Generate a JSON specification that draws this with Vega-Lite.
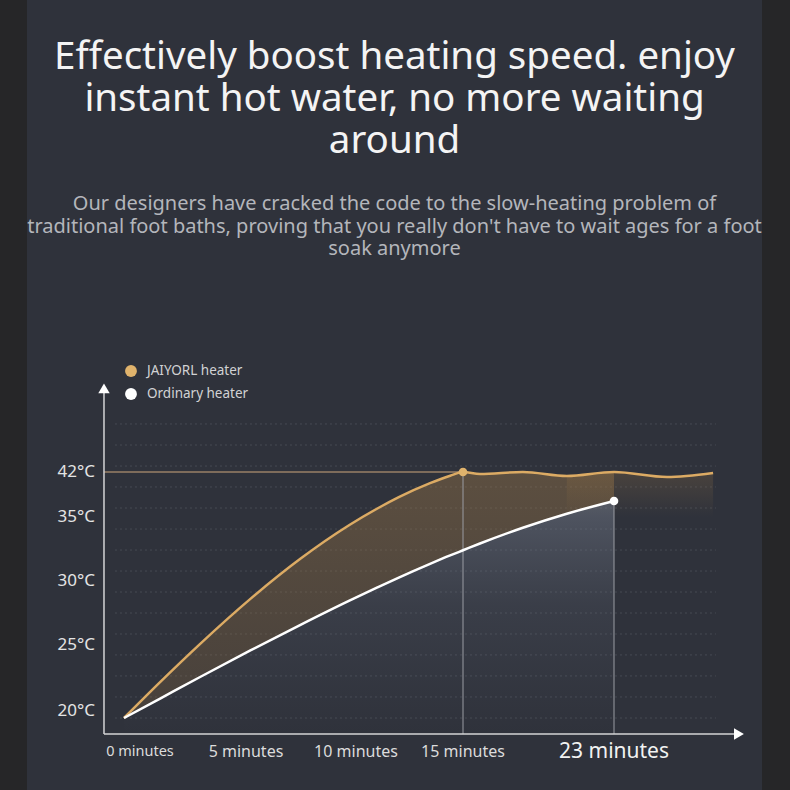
{
  "$schema": "https://vega.github.io/schema/vega-lite/v6.json",
  "width": 735,
  "height": 790,
  "autosize": {"type": "none"},
  "padding": {"left": 27, "right": 28, "top": 0, "bottom": 0},
  "background": "#262628",
  "config": {"view": {"fill": "#2f323b", "stroke": null}, "font": "Noto Sans"},
  "title": {
    "text": ["Effectively boost heating speed. enjoy", "instant hot water, no more waiting", "around"],
    "subtitle": ["Our designers have cracked the code to the slow-heating problem of", "traditional foot baths, proving that you really don't have to wait ages for a foot", "soak anymore"],
    "anchor": "middle",
    "offset": -260,
    "font": "Noto Sans",
    "fontSize": 38.5,
    "fontWeight": "normal",
    "color": "#f4f4f4",
    "lineHeight": 42,
    "subtitleFont": "Noto Sans",
    "subtitleFontSize": 20,
    "subtitleColor": "#b4b6bb",
    "subtitleLineHeight": 22.5,
    "subtitlePadding": 32.5
  },
  "datasets": {
    "curves": [
      {"minute": 0, "jaiyorl": 20, "ordinary": 20},
      {"minute": 1.5, "jaiyorl": 22.49, "ordinary": 21.35},
      {"minute": 3.1, "jaiyorl": 25.05, "ordinary": 22.79},
      {"minute": 5.2, "jaiyorl": 28.6, "ordinary": 24.63},
      {"minute": 7.5, "jaiyorl": 31.77, "ordinary": 26.6},
      {"minute": 9.7, "jaiyorl": 34.37, "ordinary": 28.47},
      {"minute": 11, "jaiyorl": 36.32, "ordinary": 29.5},
      {"minute": 12, "jaiyorl": 38.08, "ordinary": 30.27},
      {"minute": 13.46, "jaiyorl": 40.26, "ordinary": 31.34},
      {"minute": 14.4, "jaiyorl": 41.41, "ordinary": 32.0},
      {"minute": 15, "jaiyorl": 42, "ordinary": 32.4},
      {"minute": 15.9, "jaiyorl": 41.69, "ordinary": 32.93},
      {"minute": 18.17, "jaiyorl": 42, "ordinary": 34.16},
      {"minute": 20.5, "jaiyorl": 41.38, "ordinary": 35.51},
      {"minute": 23, "jaiyorl": 42, "ordinary": 37.49},
      {"minute": 25.81, "jaiyorl": 41.22, "ordinary": null},
      {"minute": 28.25, "jaiyorl": 41.84, "ordinary": null}
    ],
    "markers": [
      {"series": "JAIYORL heater", "minute": 15, "temp": 42},
      {"series": "Ordinary heater", "minute": 23, "temp": 37.49}
    ],
    "grid": [
      {"temp": 20}, {"temp": 21.44}, {"temp": 22.88}, {"temp": 24.32}, {"temp": 25.86},
      {"temp": 27.5}, {"temp": 29.14}, {"temp": 30.78}, {"temp": 32.42}, {"temp": 34.06},
      {"temp": 36.4}, {"temp": 39.67}, {"temp": 42.93}, {"temp": 46.2}, {"temp": 49.47}
    ],
    "xticks": [
      {"minute": 0, "label": "0 minutes"},
      {"minute": 5, "label": "5 minutes"},
      {"minute": 10, "label": "10 minutes"},
      {"minute": 15, "label": "15 minutes"},
      {"minute": 23, "label": "23 minutes"}
    ],
    "yticks": [
      {"temp": 20, "label": "20°C"},
      {"temp": 25, "label": "25°C"},
      {"temp": 30, "label": "30°C"},
      {"temp": 35, "label": "35°C"},
      {"temp": 42, "label": "42°C"}
    ]
  },
  "layer": [
    {
      "data": {"name": "grid"},
      "mark": {"type": "rule", "stroke": "#464a53", "strokeWidth": 1, "strokeDash": [2, 3]},
      "encoding": {
        "y": {"field": "temp", "type": "quantitative", "scale": {"domain": [20, 25, 30, 35, 42], "range": [718, 645, 581, 517, 472], "nice": false, "zero": false}, "axis": null},
        "x": {"datum": -0.37, "type": "quantitative", "scale": {"domain": [0, 5, 10, 15, 23], "range": [97, 219, 329, 436, 587], "nice": false, "zero": false}, "axis": null},
        "x2": {"datum": 28.4}
      }
    },
    {
      "data": {"name": "curves"},
      "transform": [{"filter": "isValid(datum.ordinary)"}],
      "mark": {"type": "area", "interpolate": "monotone", "fill": {"gradient": "linear", "x1": 0, "y1": 0, "x2": 0, "y2": 1, "stops": [{"offset": 0, "color": "rgba(160,122,72,0.4)"}, {"offset": 1, "color": "rgba(150,112,62,0.24)"}]}},
      "encoding": {
        "x": {"field": "minute", "type": "quantitative", "axis": null},
        "y": {"field": "jaiyorl", "type": "quantitative", "axis": null},
        "y2": {"field": "ordinary"}
      }
    },
    {
      "data": {"name": "curves"},
      "transform": [{"filter": "datum.minute >= 20.5"}],
      "mark": {"type": "area", "interpolate": "monotone", "fill": {"gradient": "linear", "x1": 0, "y1": 0, "x2": 0, "y2": 1, "stops": [{"offset": 0, "color": "rgba(150,115,68,0.26)"}, {"offset": 1, "color": "rgba(150,115,68,0)"}]}},
      "encoding": {
        "x": {"field": "minute", "type": "quantitative", "axis": null},
        "y": {"field": "jaiyorl", "type": "quantitative", "axis": null},
        "y2": {"datum": 35}
      }
    },
    {
      "data": {"name": "curves"},
      "transform": [{"filter": "isValid(datum.ordinary)"}],
      "mark": {"type": "area", "interpolate": "monotone", "fill": {"gradient": "linear", "x1": 0, "y1": 0, "x2": 0, "y2": 1, "stops": [{"offset": 0, "color": "rgba(125,133,150,0.45)"}, {"offset": 0.45, "color": "rgba(115,123,140,0.16)"}, {"offset": 1, "color": "rgba(110,118,135,0)"}]}},
      "encoding": {
        "x": {"field": "minute", "type": "quantitative", "axis": null},
        "y": {"field": "ordinary", "type": "quantitative", "axis": null},
        "y2": {"datum": 18.9}
      }
    },
    {
      "data": {"name": "markers"},
      "mark": {"type": "rule", "stroke": "#9a9ca3", "strokeWidth": 1},
      "encoding": {
        "x": {"field": "minute", "type": "quantitative", "axis": null},
        "y": {"field": "temp", "type": "quantitative", "axis": null},
        "y2": {"datum": 18.9}
      }
    },
    {
      "data": {"name": "markers"},
      "transform": [{"filter": "datum.series === 'JAIYORL heater'"}],
      "mark": {"type": "rule", "stroke": "#9a8167", "strokeWidth": 1.5},
      "encoding": {
        "x": {"field": "minute", "type": "quantitative", "axis": null},
        "x2": {"datum": -0.82},
        "y": {"field": "temp", "type": "quantitative", "axis": null}
      }
    },
    {
      "data": {"name": "curves"},
      "mark": {"type": "line", "interpolate": "monotone", "stroke": "#dcab64", "strokeWidth": 2.5},
      "encoding": {
        "x": {"field": "minute", "type": "quantitative", "axis": null},
        "y": {"field": "jaiyorl", "type": "quantitative", "axis": null}
      }
    },
    {
      "data": {"name": "curves"},
      "transform": [{"filter": "isValid(datum.ordinary)"}],
      "mark": {"type": "line", "interpolate": "monotone", "stroke": "#ffffff", "strokeWidth": 2.5},
      "encoding": {
        "x": {"field": "minute", "type": "quantitative", "axis": null},
        "y": {"field": "ordinary", "type": "quantitative", "axis": null}
      }
    },
    {
      "data": {"name": "markers"},
      "mark": {"type": "point", "filled": true, "opacity": 1, "size": 75},
      "encoding": {
        "x": {"field": "minute", "type": "quantitative", "axis": null},
        "y": {"field": "temp", "type": "quantitative", "axis": null},
        "color": {
          "field": "series", "type": "nominal",
          "scale": {"domain": ["JAIYORL heater", "Ordinary heater"], "range": ["#e0b36c", "#ffffff"]},
          "legend": {
            "title": null, "orient": "none", "legendX": 97, "legendY": 364,
            "symbolType": "circle", "symbolSize": 140, "symbolOpacity": 1,
            "labelFont": "Noto Sans", "labelFontSize": 13.5, "labelOffset": 9,
            "rowPadding": 9, "padding": 0,
            "labelColor": "#d2d2d4"
          }
        }
      }
    },
    {
      "data": {"values": [{}]},
      "mark": {"type": "rule", "stroke": "#d4d4d6", "strokeWidth": 1.5},
      "encoding": {
        "x": {"datum": -0.82, "type": "quantitative", "axis": null},
        "y": {"datum": 18.9, "type": "quantitative", "axis": null},
        "y2": {"datum": 55}
      }
    },
    {
      "data": {"values": [{}]},
      "mark": {"type": "rule", "stroke": "#d4d4d6", "strokeWidth": 1.5},
      "encoding": {
        "x": {"datum": -0.82, "type": "quantitative", "axis": null},
        "x2": {"datum": 29.4},
        "y": {"datum": 18.9, "type": "quantitative", "axis": null}
      }
    },
    {
      "data": {"values": [{}]},
      "mark": {"type": "point", "shape": "triangle-up", "filled": true, "fill": "#ffffff", "opacity": 1, "size": 130},
      "encoding": {
        "x": {"datum": -0.82, "type": "quantitative", "axis": null},
        "y": {"datum": 55, "type": "quantitative", "axis": null}
      }
    },
    {
      "data": {"values": [{}]},
      "mark": {"type": "point", "shape": "triangle-right", "filled": true, "fill": "#ffffff", "opacity": 1, "size": 130},
      "encoding": {
        "x": {"datum": 29.62, "type": "quantitative", "axis": null},
        "y": {"datum": 18.9, "type": "quantitative", "axis": null}
      }
    },
    {
      "data": {"name": "xticks"},
      "transform": [{"filter": "datum.minute > 0"}],
      "mark": {"type": "text", "font": "Noto Sans", "align": "center", "baseline": "middle", "dy": 18},
      "encoding": {
        "x": {"field": "minute", "type": "quantitative", "axis": null},
        "y": {"datum": 18.9, "type": "quantitative", "axis": null},
        "text": {"field": "label"},
        "size": {"condition": {"test": "datum.minute == 23", "value": 21}, "value": 16},
        "color": {"condition": {"test": "datum.minute == 23", "value": "#f2f2f2"}, "value": "#dcdcdc"}
      }
    },
    {
      "data": {"name": "xticks"},
      "transform": [{"filter": "datum.minute == 0"}],
      "mark": {"type": "text", "font": "Noto Sans", "align": "center", "baseline": "middle", "dy": 18, "dx": 16, "fontSize": 14.5, "color": "#dcdcdc"},
      "encoding": {
        "x": {"field": "minute", "type": "quantitative", "axis": null},
        "y": {"datum": 18.9, "type": "quantitative", "axis": null},
        "text": {"field": "label"}
      }
    },
    {
      "data": {"name": "yticks"},
      "transform": [{"filter": "datum.temp > 20"}],
      "mark": {"type": "text", "font": "Noto Sans", "align": "right", "baseline": "middle", "dx": -9, "fontSize": 17, "color": "#e4e4e4"},
      "encoding": {
        "x": {"datum": -0.82, "type": "quantitative", "axis": null},
        "y": {"field": "temp", "type": "quantitative", "axis": null},
        "text": {"field": "label"}
      }
    },
    {
      "data": {"name": "yticks"},
      "transform": [{"filter": "datum.temp == 20"}],
      "mark": {"type": "text", "font": "Noto Sans", "align": "right", "baseline": "middle", "dx": -9, "dy": -7, "fontSize": 17, "color": "#e4e4e4"},
      "encoding": {
        "x": {"datum": -0.82, "type": "quantitative", "axis": null},
        "y": {"field": "temp", "type": "quantitative", "axis": null},
        "text": {"field": "label"}
      }
    }
  ]
}
